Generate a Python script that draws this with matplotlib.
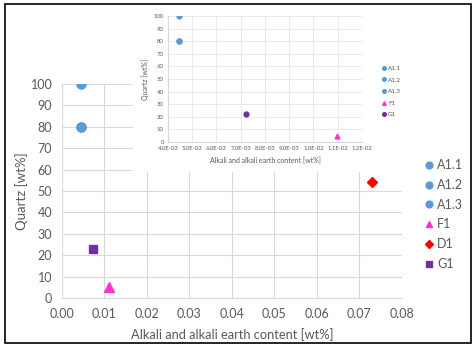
import matplotlib
matplotlib.use("Agg")

import matplotlib.pyplot as plt
from matplotlib.patches import Rectangle
from matplotlib.ticker import FuncFormatter

# data
series_names = ["A1.1", "A1.2", "A1.3", "F1", "D1", "G1"]
alkali = [0.0045, 0.0045, 0.0045, 0.011, 0.0729, 0.0072]
quartz = [100, 80, 80, 5, 54, 23]

inset_names = ["A1.1", "A1.2", "A1.3", "F1", "G1"]
inset_alkali = [0.00445, 0.00445, 0.00445, 0.01097, 0.00722]
inset_quartz = [100, 80, 80, 4.5, 22.5]

main_styles = {
    "A1.1": dict(marker="o", color="#5b9bd5", ms=6.5),
    "A1.2": dict(marker="o", color="#5b9bd5", ms=6.5),
    "A1.3": dict(marker="o", color="#5b9bd5", ms=6.5),
    "F1": dict(marker="^", color="#ff33cc", ms=6.5),
    "D1": dict(marker="D", color="#ff0000", ms=5.0),
    "G1": dict(marker="s", color="#7030a0", ms=5.5),
}
inset_styles = {
    "A1.1": dict(marker="o", color="#5b9bd5", ms=3.5),
    "A1.2": dict(marker="o", color="#5b9bd5", ms=3.5),
    "A1.3": dict(marker="o", color="#5b9bd5", ms=3.5),
    "F1": dict(marker="^", color="#ff33cc", ms=3.5),
    "G1": dict(marker="o", color="#7030a0", ms=3.5),
}

plt.rcParams['font.family'] = ['Lato', 'DejaVu Sans']
W, H = 477, 349
fig = plt.figure(figsize=(W / 100, H / 100), dpi=100)

def fx(px):
    return px / W

def fy(py):
    return 1 - py / H

grey = "#595959"
gridc = "#d9d9d9"

# main chart
ax = fig.add_axes([fx(62), fy(298), fx(402 - 62), (298 - 84) / H])
for name, x, y in zip(series_names, alkali, quartz):
    st = main_styles[name]
    ax.plot([x], [y], linestyle="none", marker=st["marker"], color=st["color"],
            markersize=st["ms"], label=name, zorder=3)
ax.set_xlim(0, 0.08)
ax.set_ylim(0, 100)
ax.set_xticks([i * 0.01 for i in range(9)])
ax.set_yticks(range(0, 101, 10))
ax.xaxis.set_major_formatter(FuncFormatter(lambda v, p: "%.2f" % v))
ax.grid(True, color=gridc, linewidth=0.8)
ax.set_axisbelow(True)
for s in ax.spines.values():
    s.set_visible(False)
ax.spines["bottom"].set_visible(True)
ax.spines["bottom"].set_color(gridc)
ax.tick_params(length=0, labelsize=9, labelcolor=grey, pad=7)
ax.set_xlabel("Alkali and alkali earth content [wt%]", fontsize=9.3, color=grey, labelpad=6)
ax.set_ylabel("Quartz [wt%]", fontsize=9.5, color=grey, labelpad=2)
fig.legend(*ax.get_legend_handles_labels(), loc="upper left",
           bbox_to_anchor=(fx(414), fy(148)), frameon=False, fontsize=9,
           labelcolor=grey, handlelength=0.6, handletextpad=0.35, labelspacing=0.62,
           markerscale=0.75)

# white panel behind the inset chart
bg = fig.add_axes([fx(133), fy(172), fx(420 - 133), (172 - 6) / H])
bg.set_facecolor("white")
bg.set_xticks([])
bg.set_yticks([])
for s in bg.spines.values():
    s.set_visible(False)

# inset chart
ins = fig.add_axes([fx(168), fy(142), fx(362 - 168), (142 - 16) / H])
for name, x, y in zip(inset_names, inset_alkali, inset_quartz):
    st = inset_styles[name]
    ins.plot([x], [y], linestyle="none", marker=st["marker"], color=st["color"],
             markersize=st["ms"], label=name, zorder=3)
ins.set_xlim(0.004, 0.012)
ins.set_ylim(0, 100)
ins.set_xticks([0.004 + i * 0.001 for i in range(9)])
ins.set_yticks(range(0, 101, 10))
ins.xaxis.set_major_formatter(FuncFormatter(lambda v, p: "%.1E" % v))
ins.grid(True, color="#e6e6e6", linewidth=0.6)
ins.set_axisbelow(True)
for s in ins.spines.values():
    s.set_visible(False)
ins.spines["bottom"].set_visible(True)
ins.spines["bottom"].set_color(gridc)
ins.spines["left"].set_visible(True)
ins.spines["left"].set_color(gridc)
ins.tick_params(length=0, labelsize=4.3, labelcolor=grey, pad=3)
ins.set_xlabel("Alkali and alkali earth content [wt%]", fontsize=5, color=grey, labelpad=4)
ins.set_ylabel("Quartz [wt%]", fontsize=5, color=grey, labelpad=3)
fig.legend(*ins.get_legend_handles_labels(), loc="upper left",
           bbox_to_anchor=(fx(377), fy(60)), frameon=False, fontsize=4.5,
           labelcolor=grey, handlelength=0.5, handletextpad=0.4, labelspacing=1.0,
           markerscale=0.75)

# outer frame
fig.patches.append(Rectangle((fx(5.5), fy(343)), fx(471 - 5.5), (343 - 4) / H,
                             transform=fig.transFigure, fill=False,
                             edgecolor="black", linewidth=1.2))

fig.savefig("out.png", dpi=100)
